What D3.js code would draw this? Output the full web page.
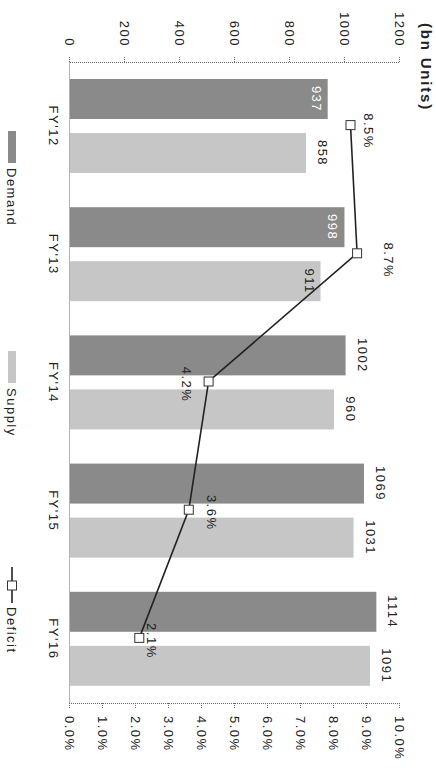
<!DOCTYPE html>
<html>
<head>
<meta charset="utf-8">
<script src="https://cdn.jsdelivr.net/npm/d3@7"></script>
<style>
  body { margin: 0; background: #fff; }
  text { font-family: "Liberation Sans", Arial, sans-serif; fill: #222; letter-spacing: 1.5px; }
</style>
</head>
<body>
<svg id="chart" width="436" height="768"></svg>
<script>
// Power demand vs supply (bn units) with deficit (%)
const categories = ["FY'12", "FY'13", "FY'14", "FY'15", "FY'16"];
const demand = [937, 998, 1002, 1069, 1114];
const supply = [858, 911, 960, 1031, 1091];
const deficit = [8.5, 8.7, 4.2, 3.6, 2.1];
const unitTicks = [0, 200, 400, 600, 800, 1000, 1200];
const pctTicks = [0, 1, 2, 3, 4, 5, 6, 7, 8, 9, 10];
const barSeries = ["Demand", "Supply"];
const lineSeries = "Deficit";

const colors = { Demand: "#8a8a8a", Supply: "#c6c6c6" };

// The chart is laid out landscape (768 x 436) and turned a quarter turn clockwise.
const W = 768, H = 436;
const svg = d3.select("#chart");
const g = svg.append("g").attr("transform", `translate(${H},0) rotate(90)`);

const plot = { left: 62, right: 703, top: 36, bottom: 366 };

const x0 = d3.scaleBand().domain(categories).range([plot.left, plot.right]);
const x1 = d3.scaleBand().domain(barSeries).range([17, 111]).paddingInner(0.26);
const y = d3.scaleLinear().domain([0, 1200]).range([plot.bottom, plot.top]);
const yp = d3.scaleLinear().domain([0, 10]).range([plot.bottom, plot.top]);

// Bars
const rows = categories.map((c, i) => ({ cat: c, Demand: demand[i], Supply: supply[i] }));
const groups = g.selectAll("g.cat").data(rows).join("g")
  .attr("class", "cat")
  .attr("transform", d => `translate(${x0(d.cat)},0)`);

groups.selectAll("rect").data(d => barSeries.map(s => ({ s, v: d[s], cat: d.cat }))).join("rect")
  .attr("x", d => x1(d.s))
  .attr("width", x1.bandwidth())
  .attr("y", d => y(d.v))
  .attr("height", d => y(0) - y(d.v))
  .attr("fill", d => colors[d.s]);

// Bar value labels; a few sit inside the bar top where the deficit line passes
const inside = new Set(["Demand|FY'12", "Demand|FY'13", "Supply|FY'13"]);
groups.selectAll("text.val").data(d => barSeries.map(s => ({ s, v: d[s], cat: d.cat }))).join("text")
  .attr("class", "val")
  .attr("x", d => x1(d.s) + x1.bandwidth() / 2)
  .attr("y", d => inside.has(d.s + "|" + d.cat) ? y(d.v) + 16 : y(d.v) - 12)
  .attr("text-anchor", "middle")
  .style("font-size", "13px")
  .style("fill", d => (inside.has(d.s + "|" + d.cat) && d.s === "Demand") ? "#fff" : "#222")
  .text(d => d.v);

// Axes
const dotted = sel => {
  sel.selectAll(".domain, .tick line").attr("stroke", "#666").attr("stroke-dasharray", "1,1");
  sel.selectAll("text").style("font-size", "13px").style("fill", "#222");
};

g.append("g")
  .attr("transform", `translate(${plot.left},0)`)
  .call(d3.axisLeft(y).tickValues(unitTicks).tickSize(5).tickPadding(10).tickFormat(d3.format("d")))
  .call(dotted);

g.append("g")
  .attr("transform", `translate(${plot.right},0)`)
  .call(d3.axisRight(yp).tickValues(pctTicks).tickSize(5).tickPadding(8).tickFormat(d => d.toFixed(1) + "%"))
  .call(dotted);

g.append("g")
  .attr("transform", `translate(0,${plot.bottom})`)
  .call(d3.axisBottom(x0).tickSize(0).tickSizeOuter(0).tickPadding(12))
  .call(dotted);

// Deficit line
const cx = c => x0(c) + x0.bandwidth() / 2 - 1;
const linePts = categories.map((c, i) => ({ cat: c, v: deficit[i] }));
g.append("path")
  .datum(linePts)
  .attr("fill", "none")
  .attr("stroke", "#222")
  .attr("stroke-width", 1.6)
  .attr("d", d3.line().x(d => cx(d.cat)).y(d => yp(d.v)));

g.selectAll("rect.mk").data(linePts).join("rect")
  .attr("class", "mk")
  .attr("x", d => cx(d.cat) - 4.5)
  .attr("y", d => yp(d.v) - 4.5)
  .attr("width", 9).attr("height", 9)
  .attr("fill", "#fff").attr("stroke", "#333").attr("stroke-width", 1);

// Deficit labels: above the marker, except where the line would cross them
const labelShift = { "FY'12": [6, -13], "FY'13": [7, -27], "FY'14": [3, 27], "FY'15": [3, -18], "FY'16": [3, -8] };
g.selectAll("text.pct").data(linePts).join("text")
  .attr("class", "pct")
  .attr("x", d => cx(d.cat) + labelShift[d.cat][0])
  .attr("y", d => yp(d.v) + labelShift[d.cat][1])
  .attr("text-anchor", "middle")
  .style("font-size", "13px")
  .text(d => d.v.toFixed(1) + "%");

// Unit title
g.append("text")
  .attr("x", 23).attr("y", 15)
  .style("font-size", "15px").style("font-weight", "bold").style("letter-spacing", "1.8px")
  .text("(bn Units)");

// Legend
const legY = 424;
const leg = g.append("g");
const legItems = [
  { name: barSeries[0], x: 131 },
  { name: barSeries[1], x: 351 },
];
legItems.forEach(it => {
  leg.append("rect").attr("x", it.x).attr("y", legY - 4).attr("width", 32).attr("height", 8)
    .attr("fill", colors[it.name]);
  leg.append("text").attr("x", it.x + 37).attr("y", legY + 5)
    .style("font-size", "13px").text(it.name);
});
leg.append("line").attr("x1", 567).attr("x2", 603).attr("y1", legY).attr("y2", legY)
  .attr("stroke", "#222").attr("stroke-width", 1.6);
leg.append("rect").attr("x", 581).attr("y", legY - 4.5).attr("width", 9).attr("height", 9)
  .attr("fill", "#fff").attr("stroke", "#333");
leg.append("text").attr("x", 607).attr("y", legY + 5)
  .style("font-size", "13px").text(lineSeries);
</script>
</body>
</html>
